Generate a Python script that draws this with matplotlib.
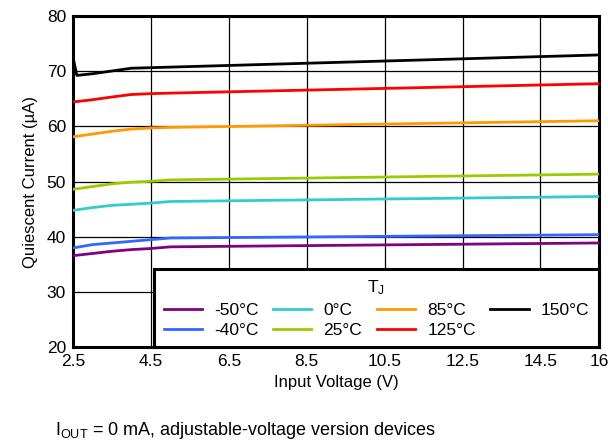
import matplotlib
matplotlib.use('Agg')
import matplotlib.pyplot as plt

plt.rcParams['font.family'] = ['Liberation Sans', 'DejaVu Sans']
plt.rcParams['mathtext.fontset'] = 'custom'
plt.rcParams['mathtext.rm'] = 'Liberation Sans'
plt.rcParams['mathtext.it'] = 'Liberation Sans'

# input voltage (V) sample points
v_in = [2.5, 3.0, 3.5, 4.0, 4.5, 5.0, 16.0]
v_in_150 = [2.5, 2.6, 3.0, 3.5, 4.0, 4.5, 5.0, 16.0]

# quiescent current (uA) per junction temperature
iq_m50 = [36.6, 37.0, 37.4, 37.7, 37.9, 38.2, 38.9]
iq_m40 = [38.0, 38.6, 38.9, 39.2, 39.5, 39.8, 40.4]
iq_0 = [44.8, 45.3, 45.7, 45.9, 46.1, 46.4, 47.3]
iq_25 = [48.6, 49.1, 49.6, 49.9, 50.05, 50.3, 51.35]
iq_85 = [58.1, 58.6, 59.1, 59.5, 59.7, 59.8, 61.0]
iq_125 = [64.4, 64.8, 65.3, 65.75, 65.9, 66.0, 67.7]
iq_150 = [72.5, 69.2, 69.5, 70.0, 70.5, 70.6, 70.7, 72.9]

labels = ['-50°C', '-40°C', '0°C', '25°C', '85°C', '125°C', '150°C']
colors = ['#800080', '#3366ff', '#33cccc', '#99cc00', '#ff9900', '#ff0000', '#000000']

xticks = [2.5, 4.5, 6.5, 8.5, 10.5, 12.5, 14.5, 16]
yticks = [20, 30, 40, 50, 60, 70, 80]

fig = plt.figure(figsize=(6.08, 4.43), dpi=100)
ax = fig.add_axes([0.120, 0.2156, 0.865, 0.749])

series = [iq_m50, iq_m40, iq_0, iq_25, iq_85, iq_125]
for y, lab, c in zip(series, labels[:6], colors[:6]):
    ax.plot(v_in, y, color=c, lw=2, label=lab, zorder=3)
ax.plot(v_in_150, iq_150, color=colors[6], lw=2, label=labels[6], zorder=3)

ax.set_xlim(2.5, 16)
ax.set_ylim(20, 80)
ax.set_xticks(xticks)
ax.set_xticklabels(['2.5', '4.5', '6.5', '8.5', '10.5', '12.5', '14.5', '16'])
ax.set_yticks(yticks)
ax.tick_params(length=0, labelsize=12.5, pad=5)
ax.grid(True, color='black', lw=0.9, zorder=1)
for s in ax.spines.values():
    s.set_linewidth(2.2)

ax.set_xlabel('Input Voltage (V)', fontsize=12, labelpad=4)
ax.set_ylabel('Quiescent Current (µA)', fontsize=12, labelpad=6)

leg = ax.legend(title='T$_{\\mathrm{J}}$', ncol=4, loc='lower left',
                bbox_to_anchor=(0.154, 0.0, 0.846, 0.236), mode='expand',
                borderaxespad=0, fontsize=12.5, title_fontsize=12.5,
                handlelength=2.2, handletextpad=0.7, columnspacing=1.0,
                labelspacing=0.3, borderpad=0.55, fancybox=False, framealpha=1,
                edgecolor='black')
leg.get_frame().set_linewidth(2.2)
leg.set_zorder(5)

fig.text(0.09, 0.018, 'I$_{\\mathrm{OUT}}$ = 0 mA, adjustable-voltage version devices',
         fontsize=13, ha='left', va='baseline')

fig.savefig('out.png', dpi=100)
